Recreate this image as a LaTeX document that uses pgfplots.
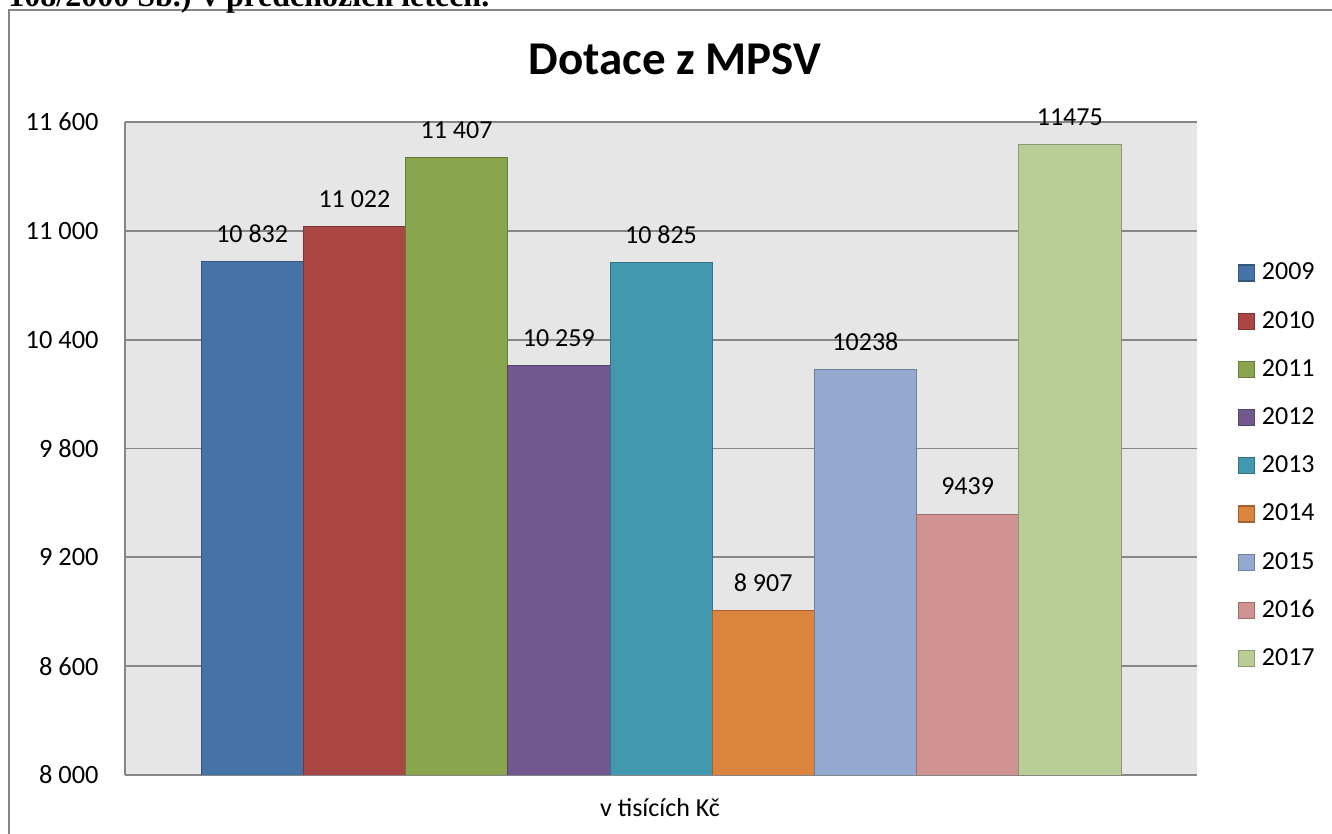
\documentclass[border=0pt]{standalone}
\usepackage{pgfplots}
\pgfplotsset{compat=1.18}
\usepackage{fontspec}
\setmainfont{Carlito}
\newfontfamily\timesfont{Liberation Serif}
\definecolor{c1}{HTML}{4572A7}
\definecolor{c2}{HTML}{AA4643}
\definecolor{c3}{HTML}{89A54E}
\definecolor{c4}{HTML}{71588F}
\definecolor{c5}{HTML}{4198AF}
\definecolor{c6}{HTML}{DB843D}
\definecolor{c7}{HTML}{93A9CF}
\definecolor{c8}{HTML}{D19392}
\definecolor{c9}{HTML}{B9CD96}
\definecolor{bg}{HTML}{E6E6E6}
\definecolor{gridc}{HTML}{868686}
\begin{document}
\begin{tikzpicture}
\useasboundingbox (-62.5pt,-29.5pt) rectangle (603.5pt,387.5pt);
\draw[gridc, line width=0.9pt] (-58pt,-45pt) rectangle (615pt,382.5pt);
\node[anchor=base west, inner sep=0pt, font=\timesfont\bfseries\fontsize{16}{19}\selectfont] at (-58.5pt,384pt) {108/2000 Sb.) v předchozích letech.};
\begin{axis}[
  scale only axis,
  width=536pt, height=326.5pt,
  xmin=-0.5, xmax=0.5,
  ymin=8000, ymax=11600,
  scaled y ticks=false,
  ytick={8000,8600,9200,9800,10400,11000,11600},
  yticklabels={8 000,8 600,9 200,9 800,10 400,11 000,11 600},
  xtick=\empty,
  axis x line*=bottom, axis y line*=left,
  axis line style={draw=gridc, line width=0.9pt},
  ymajorgrids, grid style={draw=gridc, line width=0.9pt},
  major tick length=0pt,
  yticklabel style={anchor=east, inner sep=0pt, xshift=-13pt, font=\fontsize{13.2}{15}\selectfont},
  axis background/.style={fill=bg},
  ybar=0pt, bar width=51.1pt,
  point meta=explicit symbolic,
  nodes near coords,
  every node near coord/.append style={anchor=base, inner sep=0pt, yshift=9.5pt, font=\fontsize{13}{15}\selectfont, black},
  legend style={draw=none, fill=none, inner sep=0pt, outer sep=0pt,
    at={(1.0382,0.8058)}, anchor=north west,
    font=\fontsize{13}{15}\selectfont,
    nodes={inner sep=0pt, outer sep=0pt, minimum height=24.1pt, anchor=west}},
  legend cell align=left,
  legend image code/.code={\draw[#1, line width=0.6pt] (0pt,-4pt) rectangle (8pt,4pt); \path (11.5pt,0pt);},
]
\addplot[fill=c1, draw=c1!75!black] coordinates {(0,10832) [10 832]};
\addplot[fill=c2, draw=c2!75!black] coordinates {(0,11022) [11 022]};
\addplot[fill=c3, draw=c3!75!black] coordinates {(0,11407) [11 407]};
\addplot[fill=c4, draw=c4!75!black] coordinates {(0,10259) [10 259]};
\addplot[fill=c5, draw=c5!75!black] coordinates {(0,10825) [10 825]};
\addplot[fill=c6, draw=c6!75!black] coordinates {(0,8907) [8 907]};
\addplot[fill=c7, draw=c7!75!black] coordinates {(0,10238) [10238]};
\addplot[fill=c8, draw=c8!75!black] coordinates {(0,9439) [9439]};
\addplot[fill=c9, draw=c9!75!black] coordinates {(0,11475) [11475]};
\legend{2009,2010,2011,2012,2013,2014,2015,2016,2017}
\end{axis}
\node[anchor=base, inner sep=0pt, font=\bfseries\fontsize{23.5}{28}\selectfont] at (275pt,350pt) {Dotace z MPSV};
\node[anchor=base, inner sep=0pt, font=\fontsize{13}{15}\selectfont] at (267.5pt,-21pt) {v tisících Kč};
\end{tikzpicture}
\end{document}
